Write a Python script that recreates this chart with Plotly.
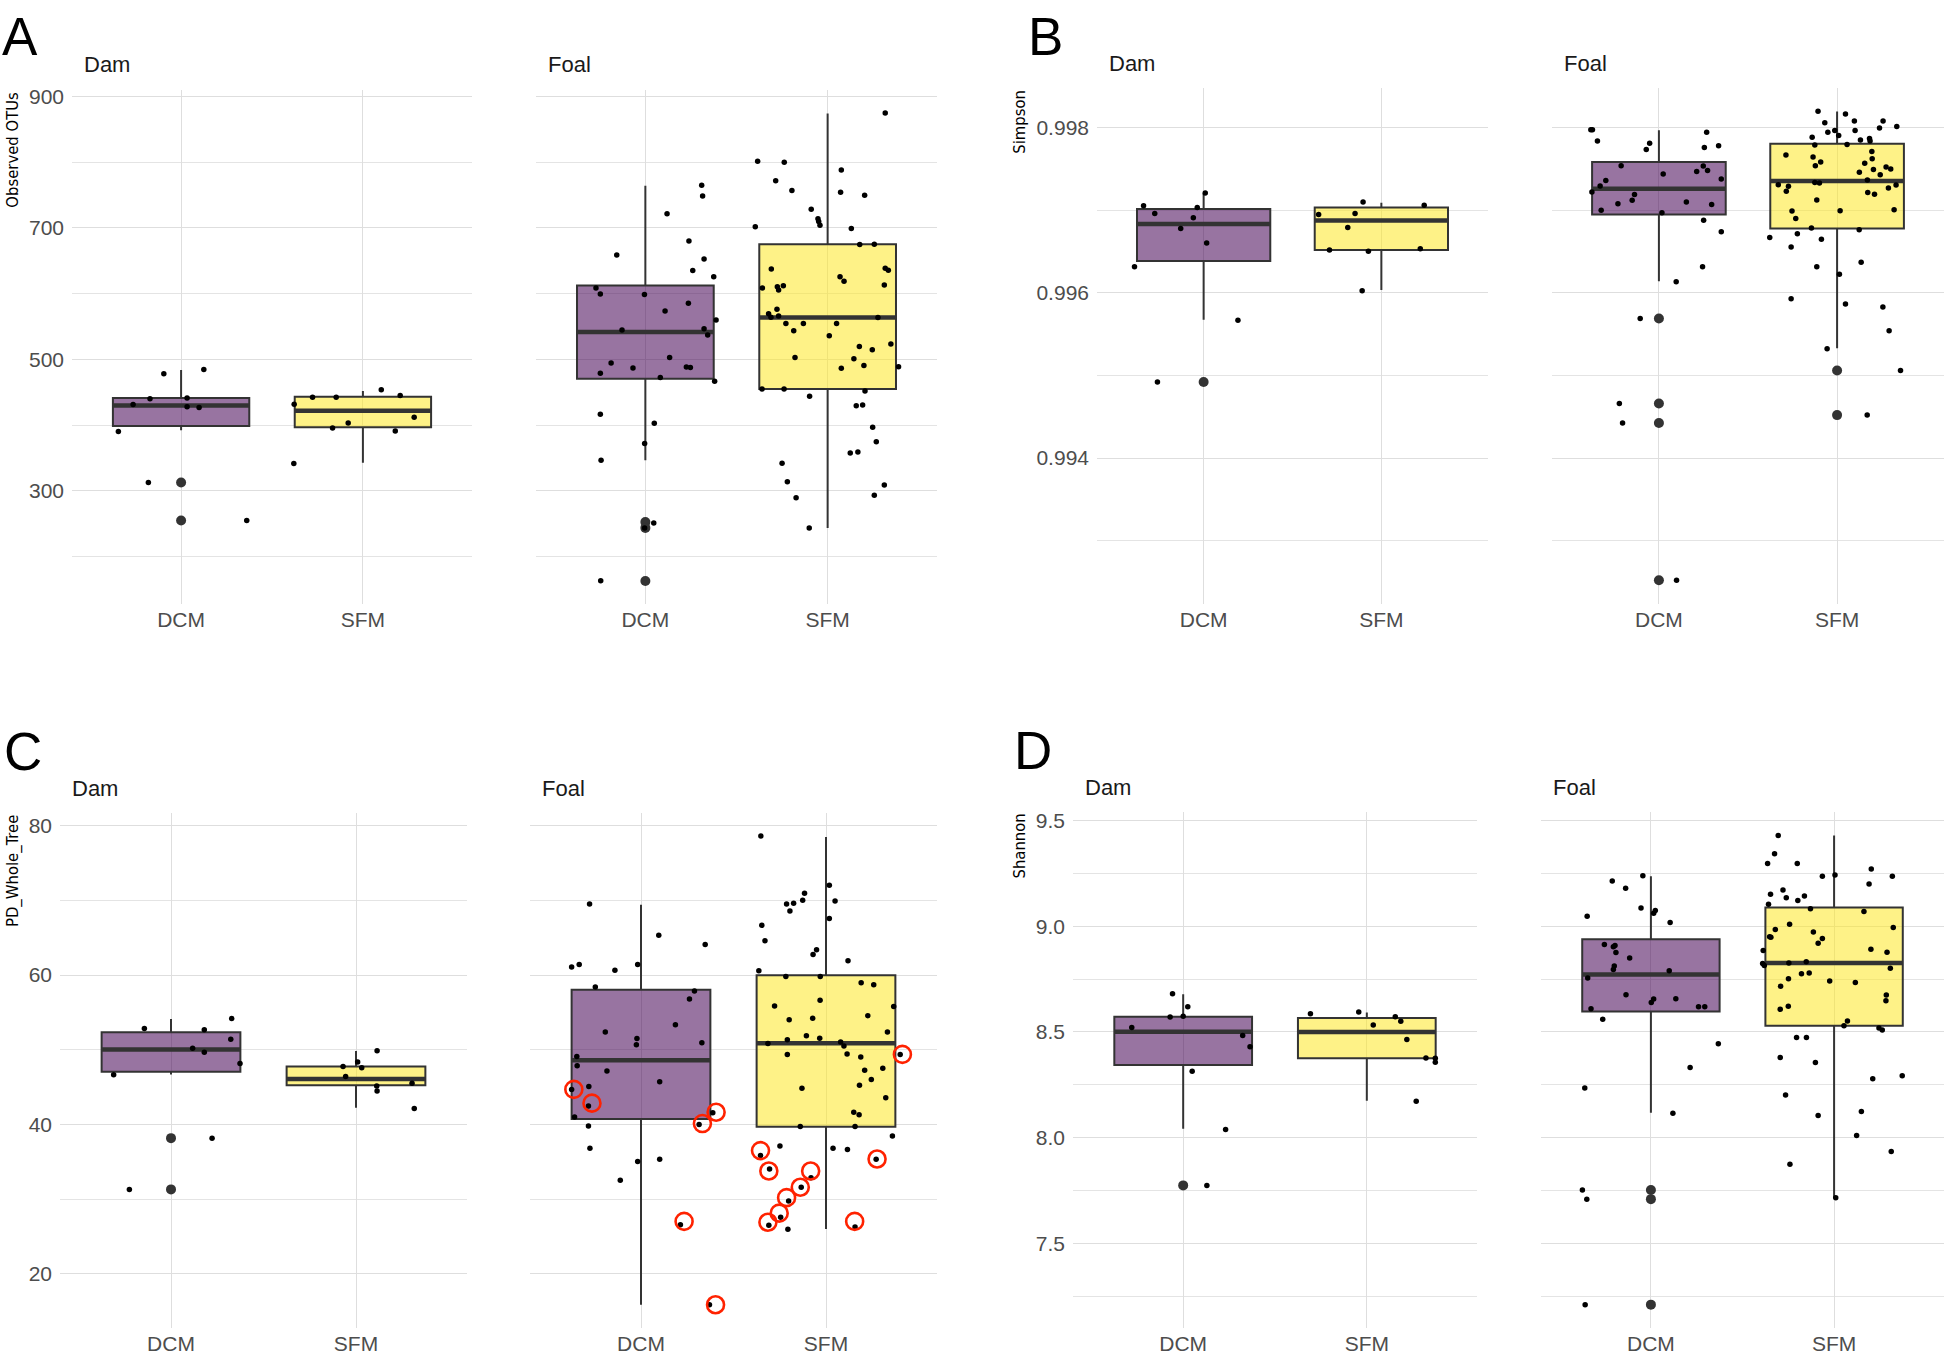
import plotly.graph_objects as go

W, H = 1946, 1356

categories = ["DCM", "SFM"]
facets = ["Dam", "Foal"]
cat_pos = [1, 2]

# ---------------- Observed OTUs (panel A) ----------------
# box stats order: Dam-DCM, Dam-SFM, Foal-DCM, Foal-SFM
otu_q1 = [398.5, 396.7, 470.7, 455.0]
otu_med = [429.9, 421.8, 541.6, 563.6]
otu_q3 = [441.2, 443.1, 612.6, 675.3]
otu_lo = [392.3, 342.7, 346.5, 243.5]
otu_hi = [483.9, 451.9, 764.4, 874.3]
otu_out_dam_dcm = [312.6, 254.8]
otu_out_dam_sfm = []
otu_out_foal_dcm = [252.3, 243.5, 162.6]
otu_out_foal_sfm = []

otu_dam_dcm_val = [390.4, 431.2, 440.0, 478.3, 441.2, 428.0, 426.8, 484.5, 254.8, 312.6]
otu_dam_dcm_jit = [-0.345, -0.264, -0.171, -0.095, 0.033, 0.033, 0.099, 0.125, 0.361, -0.180]
otu_dam_sfm_val = [431.8, 442.5, 442.5, 395.5, 403.0, 453.8, 445.0, 391.0, 411.8, 341.5]
otu_dam_sfm_jit = [-0.378, -0.277, -0.147, -0.167, -0.081, 0.101, 0.205, 0.178, 0.282, -0.380]
otu_foal_dcm_val = [765.1, 748.7, 721.8, 680.3, 659.0, 652.7, 635.2, 625.7, 608.8, 599.4, 598.8,
                    585.6, 573.7, 559.8, 544.8, 546.7, 537.3, 494.6, 502.8, 478.9, 487.0, 488.3,
                    487.6, 472.6, 466.9, 416.6, 402.9, 372.1, 346.4, 251.0, 163.2, 243.5]
otu_foal_dcm_jit = [0.309, 0.314, 0.119, 0.239, -0.157, 0.322, 0.260, 0.375, -0.271, -0.247, -0.005,
                    0.236, 0.108, 0.388, -0.128, 0.322, 0.342, -0.188, 0.133, -0.247, -0.068, 0.225,
                    0.247, 0.082, 0.380, -0.247, 0.049, -0.004, -0.243, 0.046, -0.245, -0.004]
otu_foal_sfm_val = [801.5, 800.2, 788.3, 772.0, 756.9, 754.4, 750.0, 728.7, 714.2, 709.8, 704.2, 701.7,
                    699.2, 674.7, 675.3, 874.9, 637.7, 638.9, 635.8, 625.7, 618.8, 608.8, 610.7, 611.9,
                    605.7, 613.2, 576.2, 569.3, 566.1, 564.2, 563.6, 554.8, 554.8, 554.8, 543.5, 536.0,
                    523.4, 519.7, 514.6, 502.7, 500.8, 486.4, 490.8, 488.9, 455.0, 455.0, 451.9, 443.7,
                    429.3, 430.6, 396.7, 374.7, 357.7, 359.0, 342.1, 313.8, 289.4, 308.8, 293.1, 243.5]
otu_foal_sfm_jit = [-0.384, -0.238, 0.075, -0.285, -0.196, 0.071, 0.203, -0.090, -0.053, -0.049, -0.042,
                    -0.397, 0.130, 0.176, 0.256, 0.316, -0.309, 0.316, 0.333, 0.068, 0.090, -0.358,
                    -0.276, -0.243, -0.269, 0.311, -0.278, -0.324, -0.269, -0.311, 0.276, -0.229,
                    -0.133, 0.049, -0.186, 0.009, 0.347, 0.174, 0.245, -0.179, 0.144, 0.075, 0.199,
                    0.389, -0.360, -0.239, 0.205, -0.099, 0.157, 0.192, 0.247, 0.267, 0.124, 0.166,
                    -0.250, -0.221, -0.173, 0.311, 0.256, -0.101]

# ---------------- Simpson (panel B) ----------------
simp_q1 = [0.996385, 0.99652, 0.99695, 0.99678]
simp_med = [0.996835, 0.996875, 0.99726, 0.997355]
simp_q3 = [0.997015, 0.997035, 0.997585, 0.997805]
simp_lo = [0.995675, 0.996035, 0.99614, 0.99533]
simp_hi = [0.997205, 0.99709, 0.99797, 0.998195]
simp_out_dam_dcm = [0.99492]
simp_out_dam_sfm = []
simp_out_foal_dcm = [0.99569, 0.99466, 0.994425, 0.99252]
simp_out_foal_sfm = [0.99506, 0.99452]

simp_dam_dcm_val = [0.996315, 0.997055, 0.99696, 0.99678, 0.99691, 0.997035, 0.99721, 0.996605, 0.99567, 0.99492]
simp_dam_dcm_jit = [-0.389, -0.338, -0.275, -0.129, -0.058, -0.036, 0.009, 0.017, 0.193, -0.260]
simp_dam_sfm_val = [0.99695, 0.99652, 0.99679, 0.99696, 0.9971, 0.996505, 0.996535, 0.99706, 0.996025]
simp_dam_sfm_jit = [-0.353, -0.292, -0.189, -0.148, -0.103, -0.073, 0.219, 0.241, -0.108]
simp_foal_dcm_val = [0.997975, 0.997975, 0.99784, 0.997735, 0.99781, 0.997945, 0.99776, 0.99778, 0.99754,
                     0.99744, 0.99747, 0.997535, 0.99748, 0.99738, 0.99736, 0.997295, 0.99722, 0.99719,
                     0.99712, 0.99708, 0.9971, 0.99707, 0.997, 0.99697, 0.99688, 0.99674, 0.996315,
                     0.996135, 0.99569, 0.99466, 0.994425, 0.99252]
simp_foal_dcm_jit = [-0.382, -0.373, -0.345, -0.071, -0.052, 0.268, 0.255, 0.335, -0.212, 0.024, 0.212,
                     0.249, 0.273, 0.350, -0.298, -0.330, -0.376, -0.137, -0.150, -0.230, 0.154, 0.296,
                     -0.324, 0.017, 0.251, 0.350, 0.245, 0.097, -0.105, -0.222, -0.204, 0.099]
simp_foal_sfm_val = [0.9982, 0.998165, 0.99806, 0.99808, 0.99808, 0.998015, 0.997995, 0.997945, 0.997965,
                     0.997905, 0.997965, 0.997885, 0.99785, 0.99787, 0.99784, 0.99779, 0.997795, 0.99767,
                     0.99771, 0.997645, 0.997625, 0.997585, 0.99754, 0.99757, 0.997525, 0.9975, 0.997495,
                     0.99746, 0.99743, 0.997365, 0.99731, 0.99729, 0.997335, 0.99733, 0.997305, 0.99727,
                     0.99723, 0.997215, 0.997195, 0.997125, 0.99699, 0.996995, 0.997005, 0.9969, 0.996785,
                     0.996765, 0.996715, 0.99667, 0.99665, 0.996555, 0.99637, 0.996315, 0.996225, 0.99593,
                     0.995865, 0.99583, 0.99554, 0.995325, 0.99506, 0.99452]
simp_foal_sfm_jit = [-0.107, 0.047, -0.069, 0.097, 0.258, 0.335, 0.238, -0.052, -0.013, 0.009, 0.101,
                     -0.140, 0.131, 0.182, 0.185, -0.125, 0.056, -0.287, 0.195, -0.135, 0.197, -0.092,
                     -0.122, 0.155, 0.275, 0.301, 0.204, 0.125, 0.242, 0.170, -0.330, -0.273, -0.125,
                     -0.099, 0.331, 0.288, -0.285, 0.172, 0.210, -0.114, -0.253, 0.017, 0.320, -0.232,
                     -0.144, 0.124, -0.223, -0.378, -0.088, -0.258, 0.135, -0.114, 0.013, -0.258, 0.047,
                     0.257, 0.292, -0.056, 0.356, 0.169]

# ---------------- PD_Whole_Tree (panel C) ----------------
pd_q1 = [47.05, 45.26, 40.74, 39.69]
pd_med = [50.06, 46.10, 48.61, 50.89]
pd_q3 = [52.34, 47.77, 58.03, 59.98]
pd_lo = [46.71, 42.25, 15.88, 26.02]
pd_hi = [54.13, 49.83, 69.41, 78.49]
pd_out_dam_dcm = [38.18, 31.32]
pd_out_dam_sfm = []
pd_out_foal_dcm = []
pd_out_foal_sfm = []

pd_dam_dcm_val = [46.66, 52.84, 50.22, 52.68, 49.67, 51.40, 54.18, 48.16, 38.18, 31.32]
pd_dam_dcm_jit = [-0.310, -0.144, 0.117, 0.180, 0.180, 0.323, 0.328, 0.373, 0.222, -0.225]
pd_dam_sfm_val = [47.77, 46.43, 48.38, 47.60, 49.89, 45.15, 44.48, 45.54, 42.14]
pd_dam_sfm_jit = [-0.070, -0.056, 0.009, 0.031, 0.114, 0.112, 0.114, 0.303, 0.315]
pd_foal_dcm_val = [69.52, 65.34, 64.11, 61.10, 61.43, 60.65, 61.43, 58.42, 57.86, 56.80, 53.35, 52.40,
                   51.51, 50.67, 50.95, 49.11, 47.88, 47.16, 45.71, 44.70, 45.09, 42.47, 41.58, 41.02,
                   40.02, 39.80, 36.84, 35.06, 35.34, 32.55, 26.58, 15.88]
pd_foal_dcm_jit = [-0.278, 0.096, 0.347, -0.375, -0.334, -0.141, -0.018, -0.247, 0.289, 0.262, 0.186,
                   -0.193, -0.022, -0.025, 0.329, -0.347, -0.345, -0.184, 0.101, -0.375, -0.282, -0.284,
                   0.388, -0.359, 0.314, -0.284, -0.276, -0.018, 0.101, -0.112, 0.213, 0.370]
pd_foal_sfm_val = [78.61, 72.03, 69.52, 69.63, 70.02, 70.97, 69.91, 68.57, 67.57, 66.67, 64.61, 62.77,
                   63.38, 61.93, 60.60, 59.81, 59.81, 58.98, 58.70, 55.80, 55.86, 56.64, 54.02, 54.24,
                   54.57, 52.40, 51.90, 51.56, 51.34, 50.84, 51.06, 50.50, 49.39, 49.44, 49.05, 47.27,
                   47.55, 46.04, 45.26, 44.87, 43.59, 41.64, 41.30, 39.74, 39.74, 38.46, 37.12, 36.84,
                   36.67, 35.84, 34.05, 32.88, 31.60, 29.76, 35.34, 27.59, 26.53, 25.97, 26.30, 49.39]
pd_foal_sfm_jit = [-0.352, 0.018, -0.213, -0.175, -0.126, -0.116, 0.049, -0.195, 0.018, -0.347, -0.330,
                   -0.070, -0.051, 0.119, -0.363, -0.217, -0.031, 0.190, 0.258, 0.366, -0.278, -0.032,
                   -0.199, -0.072, 0.226, 0.332, -0.106, -0.034, -0.209, -0.314, 0.079, 0.097, -0.209,
                   0.114, 0.188, 0.209, 0.307, 0.245, 0.181, -0.130, 0.323, 0.150, 0.179, -0.139, 0.157,
                   0.359, -0.249, 0.038, 0.116, -0.354, -0.305, -0.081, -0.134, -0.202, 0.271, -0.245,
                   -0.309, -0.206, 0.157, 0.401]
# red highlight circles (Foal facet)
pd_circ_dcm_val = [44.70, 42.86, 40.13, 41.64, 27.03, 15.88]
pd_circ_dcm_jit = [-0.363, -0.265, 0.332, 0.406, 0.233, 0.403]
pd_circ_sfm_val = [36.51, 33.78, 49.39, 35.39, 33.78, 31.60, 30.21, 28.14, 26.92, 27.03]
pd_circ_sfm_jit = [-0.354, -0.309, 0.413, 0.276, -0.083, -0.139, -0.213, -0.253, -0.314, 0.155]

# ---------------- Shannon (panel D) ----------------
sh_q1 = [8.343, 8.375, 8.596, 8.529]
sh_med = [8.501, 8.499, 8.771, 8.826]
sh_q3 = [8.572, 8.566, 8.938, 9.088]
sh_lo = [8.042, 8.174, 8.117, 7.715]
sh_hi = [8.678, 8.592, 9.236, 9.429]
sh_out_dam_dcm = [7.774]
sh_out_dam_sfm = []
sh_out_foal_dcm = [7.752, 7.709, 7.210]
sh_out_foal_sfm = []

sh_dam_dcm_val = [8.521, 8.570, 8.680, 8.574, 8.619, 8.314, 8.038, 7.774, 8.483, 8.430]
sh_dam_dcm_jit = [-0.280, -0.071, -0.058, 0.0, 0.025, 0.049, 0.231, 0.129, 0.324, 0.364]
sh_dam_sfm_val = [8.586, 8.594, 8.533, 8.572, 8.550, 8.464, 8.377, 8.375, 8.357, 8.172]
sh_dam_sfm_jit = [-0.307, -0.044, 0.035, 0.155, 0.185, 0.218, 0.322, 0.373, 0.373, 0.269]
sh_foal_dcm_val = [9.214, 9.179, 9.238, 9.047, 9.086, 9.061, 9.074, 9.017, 8.913, 8.903, 8.909, 8.875,
                   8.850, 8.812, 8.795, 8.755, 8.789, 8.676, 8.655, 8.639, 8.657, 8.619, 8.619, 8.609,
                   8.560, 8.444, 8.332, 8.235, 8.115, 7.752, 7.709, 7.210]
sh_foal_dcm_jit = [-0.211, -0.138, -0.044, -0.348, -0.054, 0.015, 0.024, 0.105, -0.254, -0.205, -0.196,
                   -0.191, -0.116, -0.200, -0.205, -0.345, 0.100, -0.136, 0.015, 0.002, 0.136, 0.260,
                   0.294, -0.327, -0.263, 0.368, 0.214, -0.361, 0.120, -0.374, -0.350, -0.359]
sh_foal_sfm_val = [9.429, 9.342, 9.297, 9.297, 9.271, 9.236, 9.242, 9.236, 9.199, 9.171, 9.151, 9.134,
                   9.122, 9.143, 9.104, 9.082, 9.070, 9.009, 8.984, 8.994, 8.972, 8.950, 8.948, 8.942,
                   8.919, 8.885, 8.891, 8.877, 8.824, 8.814, 8.826, 8.832, 8.801, 8.775, 8.779, 8.751,
                   8.741, 8.734, 8.716, 8.674, 8.647, 8.621, 8.607, 8.552, 8.529, 8.519, 8.509, 8.473,
                   8.473, 8.379, 8.355, 8.278, 8.292, 8.202, 8.105, 8.123, 8.010, 7.934, 7.874, 7.715]
sh_foal_sfm_jit = [-0.305, -0.325, -0.363, -0.201, 0.203, -0.064, 0.005, 0.318, 0.191, -0.279, -0.347,
                   -0.261, -0.198, -0.162, -0.358, -0.129, 0.163, -0.243, -0.321, 0.323, -0.113, -0.352,
                   -0.345, -0.064, -0.087, -0.387, 0.201, 0.289, -0.390, -0.381, -0.247, -0.152, 0.307,
                   -0.178, -0.136, -0.249, -0.024, 0.116, -0.292, 0.285, 0.283, -0.250, -0.294, 0.073,
                   0.054, 0.245, 0.263, -0.205, -0.151, -0.294, -0.102, 0.211, 0.372, -0.265, -0.087,
                   0.149, 0.123, 0.312, -0.241, 0.009]

# ---------------- styling / layout ----------------
FILL = ["rgba(68,1,84,0.55)", "rgba(253,231,37,0.55)"]
LINE = "#333333"
GRID = "#DEDEDE"
BOX_W = 0.75
SANS = "Liberation Sans, Arial, sans-serif"
NARROW = "Liberation Sans Narrow, DejaVu Sans Condensed, sans-serif"

metrics = [
    dict(letter="A", title="Observed OTUs",
         q1=otu_q1, med=otu_med, q3=otu_q3, lo=otu_lo, hi=otu_hi,
         outs=[otu_out_dam_dcm, otu_out_dam_sfm, otu_out_foal_dcm, otu_out_foal_sfm],
         vals=[otu_dam_dcm_val, otu_dam_sfm_val, otu_foal_dcm_val, otu_foal_sfm_val],
         jits=[otu_dam_dcm_jit, otu_dam_sfm_jit, otu_foal_dcm_jit, otu_foal_sfm_jit],
         yrange=[128, 910.5], major=[300, 500, 700, 900], majtxt=["300", "500", "700", "900"],
         minor=[200, 400, 600, 800],
         px=[(72, 472), (536, 937)], top=85, bottom=601,
         letter_xy=(0, 0), title_x=13, strip_y=60),
    dict(letter="B", title="Simpson",
         q1=simp_q1, med=simp_med, q3=simp_q3, lo=simp_lo, hi=simp_hi,
         outs=[simp_out_dam_dcm, simp_out_dam_sfm, simp_out_foal_dcm, simp_out_foal_sfm],
         vals=[simp_dam_dcm_val, simp_dam_sfm_val, simp_foal_dcm_val, simp_foal_sfm_val],
         jits=[simp_dam_dcm_jit, simp_dam_sfm_jit, simp_foal_dcm_jit, simp_foal_sfm_jit],
         yrange=[0.992236, 0.998484], major=[0.994, 0.996, 0.998], majtxt=["0.994", "0.996", "0.998"],
         minor=[0.993, 0.995, 0.997],
         px=[(1097, 1488), (1552, 1944)], top=83, bottom=601,
         letter_xy=(1026, 0), title_x=1020, strip_y=59),
    dict(letter="C", title="PD_Whole_Tree",
         q1=pd_q1, med=pd_med, q3=pd_q3, lo=pd_lo, hi=pd_hi,
         outs=[pd_out_dam_dcm, pd_out_dam_sfm, pd_out_foal_dcm, pd_out_foal_sfm],
         vals=[pd_dam_dcm_val, pd_dam_sfm_val, pd_foal_dcm_val, pd_foal_sfm_val],
         jits=[pd_dam_dcm_jit, pd_dam_sfm_jit, pd_foal_dcm_jit, pd_foal_sfm_jit],
         yrange=[12.75, 81.7], major=[20, 40, 60, 80], majtxt=["20", "40", "60", "80"],
         minor=[30, 50, 70],
         px=[(60, 467), (530, 937)], top=811, bottom=1328,
         letter_xy=(2, 718), title_x=13, strip_y=786),
    dict(letter="D", title="Shannon",
         q1=sh_q1, med=sh_med, q3=sh_q3, lo=sh_lo, hi=sh_hi,
         outs=[sh_out_dam_dcm, sh_out_dam_sfm, sh_out_foal_dcm, sh_out_foal_sfm],
         vals=[sh_dam_dcm_val, sh_dam_sfm_val, sh_foal_dcm_val, sh_foal_sfm_val],
         jits=[sh_dam_dcm_jit, sh_dam_sfm_jit, sh_foal_dcm_jit, sh_foal_sfm_jit],
         yrange=[7.099, 9.540], major=[7.5, 8.0, 8.5, 9.0, 9.5],
         majtxt=["7.5", "8.0", "8.5", "9.0", "9.5"],
         minor=[7.25, 7.75, 8.25, 8.75, 9.25],
         px=[(1073, 1477), (1541, 1944)], top=810, bottom=1328,
         letter_xy=(1012, 717), title_x=1020, strip_y=785),
]

fig = go.Figure()
layout = dict(
    width=W, height=H, margin=dict(l=0, r=0, t=0, b=0),
    paper_bgcolor="white", plot_bgcolor="white", showlegend=False,
    boxmode="overlay", annotations=[],
    font=dict(family=SANS),
)

ax = 0
for m in metrics:
    for fi, facet in enumerate(facets):
        ax += 1
        xa = "x" if ax == 1 else f"x{ax}"
        ya = "y" if ax == 1 else f"y{ax}"
        l, r = m["px"][fi]
        layout["xaxis" if ax == 1 else f"xaxis{ax}"] = dict(
            domain=[l / W, r / W], anchor=ya, range=[0.4, 2.6],
            tickmode="array", tickvals=cat_pos, ticktext=categories,
            showgrid=True, gridcolor=GRID, gridwidth=1.3, zeroline=False, showline=False,
            ticks="", ticklabelstandoff=1,
            tickfont=dict(size=21, color="#4D4D4D", family=SANS),
        )
        layout["yaxis" if ax == 1 else f"yaxis{ax}"] = dict(
            domain=[1 - m["bottom"] / H, 1 - m["top"] / H], anchor=xa, range=m["yrange"],
            tickmode="array", tickvals=m["major"], ticktext=m["majtxt"],
            showticklabels=(fi == 0), ticklabelstandoff=7,
            showgrid=True, gridcolor=GRID, gridwidth=1.3, zeroline=False, showline=False, ticks="",
            tickfont=dict(size=21, color="#4D4D4D", family=SANS),
            minor=dict(tickmode="array", tickvals=m["minor"], showgrid=True,
                       gridcolor="#E4E4E4", gridwidth=0.9, ticks=""),
        )
        # strip label
        layout["annotations"].append(dict(
            text=facet, x=(l + 10) / W, y=1 - m["strip_y"] / H, xref="paper", yref="paper",
            xanchor="left", yanchor="middle", showarrow=False,
            font=dict(size=22, color="#1A1A1A", family=SANS)))

        for ci in range(2):
            gi = fi * 2 + ci
            pos = cat_pos[ci]
            fig.add_trace(go.Box(
                x=[pos], q1=[m["q1"][gi]], median=[m["med"][gi]], q3=[m["q3"][gi]],
                lowerfence=[m["lo"][gi]], upperfence=[m["hi"][gi]],
                width=BOX_W, whiskerwidth=0, fillcolor=FILL[ci],
                line=dict(color=LINE, width=2), boxpoints=False,
                xaxis=xa, yaxis=ya, hoverinfo="skip", showlegend=False))
            fig.add_trace(go.Scatter(
                x=[pos - BOX_W / 2, pos + BOX_W / 2], y=[m["med"][gi], m["med"][gi]],
                mode="lines", line=dict(color=LINE, width=4.5),
                xaxis=xa, yaxis=ya, hoverinfo="skip", showlegend=False))
            if m["outs"][gi]:
                fig.add_trace(go.Scatter(
                    x=[pos] * len(m["outs"][gi]), y=m["outs"][gi], mode="markers",
                    marker=dict(color=LINE, size=10),
                    xaxis=xa, yaxis=ya, hoverinfo="skip", showlegend=False))
            fig.add_trace(go.Scatter(
                x=[pos + j for j in m["jits"][gi]], y=m["vals"][gi], mode="markers",
                marker=dict(color="black", size=5.5),
                xaxis=xa, yaxis=ya, hoverinfo="skip", showlegend=False))
            if m["letter"] == "C" and facet == "Foal":
                cv = pd_circ_dcm_val if ci == 0 else pd_circ_sfm_val
                cj = pd_circ_dcm_jit if ci == 0 else pd_circ_sfm_jit
                fig.add_trace(go.Scatter(
                    x=[pos + j for j in cj], y=cv, mode="markers",
                    marker=dict(symbol="circle-open", color="#FF2200", size=17,
                                line=dict(width=2.6, color="#FF2200")),
                    xaxis=xa, yaxis=ya, hoverinfo="skip", showlegend=False))

    # y-axis title
    layout["annotations"].append(dict(
        text=m["title"], textangle=-90, x=m["title_x"] / W, y=1 - m["top"] / H,
        xref="paper", yref="paper", xanchor="center", yanchor="top", showarrow=False,
        font=dict(size=16.5, color="black", family=NARROW)))
    # panel letter
    lx, ly = m["letter_xy"]
    layout["annotations"].append(dict(
        text=m["letter"], x=lx / W, y=1 - ly / H, xref="paper", yref="paper",
        xanchor="left", yanchor="top", showarrow=False,
        font=dict(size=53, color="black", family=SANS)))

fig.update_layout(**layout)
fig.write_html("out.html", config={"displayModeBar": False},
               post_script="document.body.style.margin='0';")
